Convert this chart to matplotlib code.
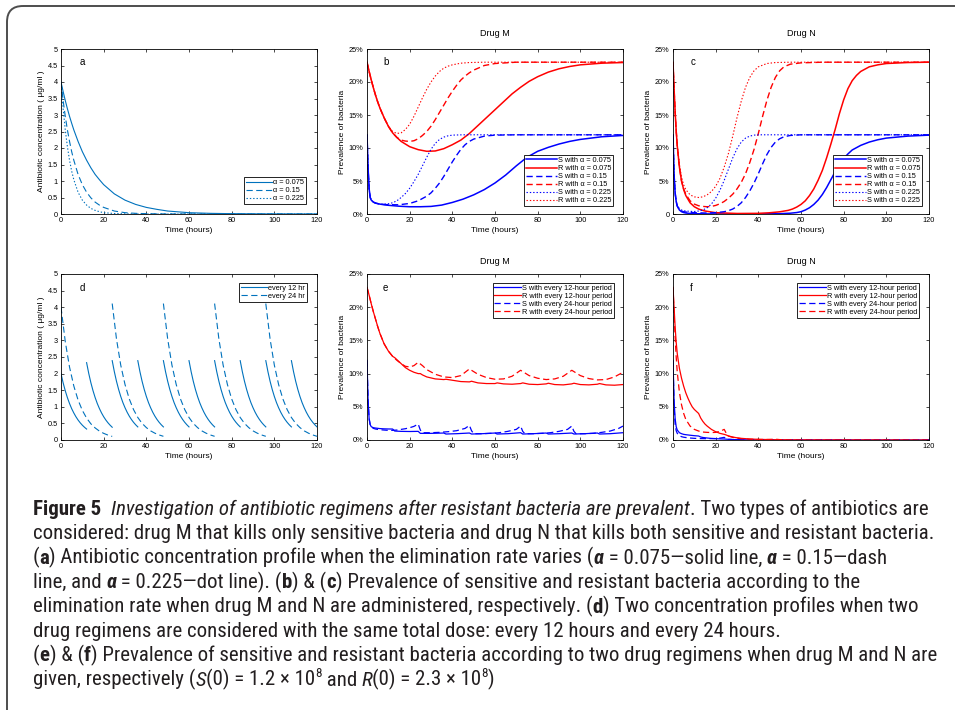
import matplotlib
matplotlib.use("Agg")
import matplotlib.pyplot as plt
from matplotlib import font_manager as fm
from matplotlib.patches import FancyBboxPatch

# ---------------- data ----------------
# (a) concentration, three elimination rates
t_a = [0, 1, 2, 3, 4, 5, 6, 8, 10, 12, 14, 16, 18, 20, 25, 30, 35, 40, 45, 50, 60, 70, 80, 90, 100, 110, 120]
conc_a1 = [4.00, 3.71, 3.44, 3.19, 2.96, 2.75, 2.55, 2.20, 1.89, 1.63, 1.40, 1.20, 1.04, 0.89, 0.61, 0.42, 0.29,
           0.20, 0.14, 0.09, 0.04, 0.02, 0.01, 0.005, 0.002, 0.001, 0.0]
conc_a2 = [4.00, 3.44, 2.96, 2.55, 2.20, 1.89, 1.63, 1.20, 0.89, 0.66, 0.49, 0.36, 0.27, 0.20, 0.09, 0.04, 0.02,
           0.01, 0.005, 0.002, 0, 0, 0, 0, 0, 0, 0]
conc_a3 = [4.00, 3.19, 2.55, 2.04, 1.63, 1.30, 1.04, 0.66, 0.42, 0.27, 0.17, 0.11, 0.07, 0.04, 0.015, 0.005, 0,
           0, 0, 0, 0, 0, 0, 0, 0, 0, 0]
labels_a = ["α = 0.075", "α = 0.15", "α = 0.225"]

# (b) drug M, prevalence (%)
t_b_s1 = [0, 0.5, 1, 1.5, 2, 3, 4, 6, 8, 10, 15, 20, 25, 30, 35, 40, 45, 50, 55, 60, 65, 70, 75, 80, 85, 90, 95, 100, 110, 120]
b_s1 = [12, 7, 3.8, 2.5, 2.1, 1.8, 1.65, 1.5, 1.4, 1.32, 1.18, 1.1, 1.1, 1.15, 1.35, 1.75, 2.25, 2.9, 3.7, 4.7,
        5.9, 7.3, 8.6, 9.5, 10.1, 10.6, 11.0, 11.3, 11.7, 11.9]
t_b_r1 = [0, 1, 2, 3, 4, 5, 6, 8, 10, 12, 14, 16, 18, 20, 24, 28, 32, 36, 40, 44, 48, 52, 56, 60, 64, 68, 72, 76,
          80, 85, 90, 95, 100, 110, 120]
b_r1 = [23, 21.6, 20.3, 19.1, 18.0, 17.0, 16.1, 14.6, 13.3, 12.3, 11.6, 11.0, 10.6, 10.2, 9.75, 9.5, 9.55, 9.9,
        10.5, 11.2, 12.2, 13.4, 14.6, 15.8, 17.0, 18.2, 19.2, 20.1, 20.8, 21.5, 22.0, 22.35, 22.6, 22.85, 22.95]
t_b_s2 = [0, 0.5, 1, 1.5, 2, 3, 4, 6, 8, 10, 15, 20, 24, 28, 30, 32, 34, 36, 38, 40, 42, 44, 46, 48, 50, 55, 60, 70, 80, 120]
b_s2 = [12, 7, 3.8, 2.5, 2.1, 1.8, 1.65, 1.5, 1.45, 1.4, 1.4, 1.6, 2.0, 2.7, 3.2, 3.9, 4.7, 5.7, 6.8, 7.9, 8.9,
        9.8, 10.5, 11.0, 11.35, 11.8, 11.95, 12.0, 12.0, 12.0]
t_b_r2 = [0, 1, 2, 3, 4, 5, 6, 8, 10, 12, 14, 16, 18, 20, 22, 24, 26, 28, 30, 32, 34, 36, 38, 40, 42, 44, 46, 48,
          50, 55, 60, 70, 120]
b_r2 = [23, 21.6, 20.3, 19.1, 18.0, 17.0, 16.1, 14.6, 13.3, 12.3, 11.6, 11.2, 11.05, 11.0, 11.1, 11.4, 11.9, 12.5,
        13.3, 14.3, 15.4, 16.5, 17.6, 18.6, 19.5, 20.3, 20.9, 21.4, 21.8, 22.5, 22.8, 23.0, 23.0]
t_b_s3 = [0, 0.5, 1, 1.5, 2, 3, 4, 6, 8, 10, 12, 14, 16, 18, 20, 22, 24, 26, 28, 30, 32, 34, 36, 38, 40, 45, 50, 120]
b_s3 = [12, 7, 3.8, 2.5, 2.1, 1.8, 1.65, 1.5, 1.5, 1.55, 1.7, 2.0, 2.5, 3.1, 3.9, 4.9, 6.0, 7.3, 8.6, 9.8, 10.7,
        11.3, 11.65, 11.85, 11.95, 12.0, 12.0, 12.0]
t_b_r3 = [0, 1, 2, 3, 4, 5, 6, 8, 10, 12, 14, 16, 18, 20, 22, 24, 26, 28, 30, 32, 34, 36, 38, 40, 44, 48, 55, 120]
b_r3 = [23, 21.6, 20.3, 19.1, 18.0, 17.0, 16.1, 14.6, 13.3, 12.5, 12.2, 12.3, 12.8, 13.6, 14.8, 16.2, 17.6, 18.9,
        20.0, 20.9, 21.6, 22.1, 22.4, 22.6, 22.85, 22.95, 23.0, 23.0]
labels_b = ["S with α = 0.075", "R with α = 0.075", "S with α = 0.15", "R with α = 0.15",
            "S with α = 0.225", "R with α = 0.225"]

# (c) drug N, prevalence (%)
t_c_s1 = [0, 0.5, 1, 1.5, 2, 3, 4, 5, 6, 8, 10, 15, 20, 30, 40, 50, 55, 58, 60, 62, 64, 66, 68, 70, 72, 74, 76,
          78, 80, 82, 84, 88, 92, 96, 100, 110, 120]
c_s1 = [12, 6, 3.2, 1.9, 1.2, 0.6, 0.35, 0.22, 0.15, 0.08, 0.05, 0.02, 0.01, 0.01, 0.02, 0.05, 0.12, 0.22, 0.35,
        0.6, 0.95, 1.45, 2.1, 2.95, 4.0, 5.2, 6.4, 7.5, 8.4, 9.1, 9.7, 10.4, 10.9, 11.25, 11.5, 11.8, 11.95]
t_c_r1 = [0, 0.5, 1, 1.5, 2, 3, 4, 5, 6, 8, 10, 12, 15, 20, 30, 40, 45, 50, 54, 56, 58, 60, 62, 64, 66, 68, 70,
          72, 74, 76, 78, 80, 82, 84, 86, 88, 92, 96, 100, 110, 120]
c_r1 = [23, 19, 15.5, 12.6, 10.3, 7.1, 5.0, 3.7, 2.8, 1.7, 1.1, 0.75, 0.45, 0.2, 0.08, 0.1, 0.18, 0.33, 0.55,
        0.75, 1.05, 1.45, 2.0, 2.8, 3.8, 5.1, 6.6, 8.5, 10.6, 12.8, 15.2, 17.3, 19.0, 20.2, 21.0, 21.6, 22.3,
        22.6, 22.8, 22.95, 23.0]
t_c_s2 = [0, 0.5, 1, 1.5, 2, 3, 4, 5, 6, 8, 10, 15, 20, 24, 26, 28, 30, 32, 34, 36, 38, 40, 42, 44, 46, 48, 50,
          52, 55, 60, 120]
c_s2 = [12, 6, 3.2, 1.9, 1.2, 0.65, 0.45, 0.35, 0.3, 0.25, 0.2, 0.15, 0.2, 0.35, 0.5, 0.75, 1.15, 1.7, 2.5, 3.5,
        4.7, 6.1, 7.6, 9.0, 10.1, 10.9, 11.4, 11.7, 11.9, 12.0, 12.0]
t_c_r2 = [0, 0.5, 1, 1.5, 2, 3, 4, 5, 6, 8, 10, 12, 14, 16, 18, 20, 22, 24, 26, 28, 30, 32, 34, 36, 38, 40, 42,
          44, 46, 48, 50, 52, 55, 60, 70, 120]
c_r2 = [23, 19, 15.5, 12.6, 10.3, 7.1, 5.0, 3.8, 3.0, 2.0, 1.5, 1.25, 1.15, 1.1, 1.15, 1.3, 1.55, 1.9, 2.4, 3.0,
        3.8, 4.8, 6.1, 7.8, 9.8, 12.2, 14.8, 17.2, 19.2, 20.7, 21.7, 22.3, 22.7, 22.9, 23.0, 23.0]
t_c_s3 = [0, 0.5, 1, 1.5, 2, 3, 4, 5, 6, 8, 10, 12, 14, 16, 18, 20, 22, 24, 26, 28, 30, 32, 34, 36, 38, 40, 120]
c_s3 = [12, 6, 3.2, 1.9, 1.3, 0.8, 0.6, 0.5, 0.45, 0.4, 0.38, 0.45, 0.6, 0.95, 1.5, 2.4, 3.6, 5.1, 6.8, 8.5,
        9.9, 10.9, 11.5, 11.8, 11.95, 12.0, 12.0]
t_c_r3 = [0, 0.5, 1, 1.5, 2, 3, 4, 5, 6, 8, 10, 12, 14, 16, 18, 20, 22, 24, 26, 28, 30, 32, 34, 36, 38, 40, 44,
          48, 55, 120]
c_r3 = [23, 19, 15.5, 12.6, 10.5, 7.5, 5.6, 4.4, 3.7, 2.9, 2.6, 2.5, 2.6, 2.9, 3.4, 4.2, 5.4, 7.1, 9.2, 11.8,
        14.6, 17.1, 19.2, 20.7, 21.7, 22.3, 22.8, 22.95, 23.0, 23.0]
labels_c = ["S with α = 0.075", "R with α = 0.075", "S with α = 0.15", "R with α = 0.15",
            "S with α = 0.225", "S with α = 0.225"]

# (d) two dosing regimens; each dose decays with the same read profile
dose12_start = [0, 12, 24, 36, 48, 60, 72, 84, 96, 108]
dose12_peak = [2.0, 2.33, 2.39, 2.39, 2.39, 2.39, 2.39, 2.39, 2.39, 2.39]
decay12_dt = [0, 1, 2, 3, 4, 5, 6, 7, 8, 9, 10, 11, 12]
decay12_frac = [1, 0.861, 0.741, 0.638, 0.549, 0.472, 0.407, 0.350, 0.301, 0.259, 0.223, 0.192, 0.165]
dose24_start = [0, 24, 48, 72, 96]
dose24_peak = [4.0, 4.11, 4.11, 4.11, 4.11]
decay24_dt = [0, 2, 4, 6, 8, 10, 12, 14, 16, 18, 20, 22, 24]
decay24_frac = [1, 0.741, 0.549, 0.407, 0.301, 0.223, 0.165, 0.122, 0.091, 0.067, 0.050, 0.037, 0.027]
labels_d = ["every 12 hr", "every 24 hr"]

# (e) drug M, two regimens (%)
t_e_s12 = [0, 0.5, 1, 1.5, 2, 3, 4, 6, 8, 10, 12, 13, 16, 20, 24, 25, 30, 36, 37, 42, 48, 49, 54, 60, 61, 66,
           72, 73, 78, 84, 85, 90, 96, 97, 102, 108, 109, 114, 120]
e_s12 = [12, 6, 3.2, 2.3, 2.0, 1.85, 1.8, 1.72, 1.68, 1.66, 1.65, 1.35, 1.3, 1.28, 1.3, 1.0, 1.0, 1.05, 0.9,
         0.95, 1.05, 0.9, 0.95, 1.05, 0.9, 0.95, 1.1, 0.9, 0.95, 1.05, 0.9, 0.95, 1.05, 0.9, 0.95, 1.05, 0.9,
         0.95, 1.1]
t_e_r12 = [0, 1, 2, 3, 4, 5, 6, 8, 10, 12, 13, 14, 16, 18, 20, 22, 24, 25, 26, 28, 32, 36, 37, 40, 44, 48, 49,
           52, 56, 60, 61, 64, 68, 72, 73, 76, 80, 84, 85, 88, 92, 96, 97, 100, 104, 108, 109, 112, 116, 120]
e_r12 = [23, 21.8, 20.5, 19.3, 18.2, 17.1, 16.1, 14.5, 13.4, 12.6, 12.4, 12.1, 11.5, 10.9, 10.5, 10.2, 10.0,
         10.0, 9.8, 9.5, 9.2, 9.1, 9.15, 9.0, 8.8, 8.75, 8.85, 8.6, 8.5, 8.5, 8.6, 8.45, 8.4, 8.5, 8.6, 8.4,
         8.35, 8.45, 8.55, 8.35, 8.3, 8.45, 8.55, 8.35, 8.3, 8.4, 8.5, 8.3, 8.25, 8.35]
t_e_s24 = [0, 0.5, 1, 1.5, 2, 3, 4, 6, 8, 10, 12, 14, 16, 18, 20, 22, 24, 25, 26, 30, 34, 38, 42, 46, 48, 49,
           50, 54, 58, 62, 66, 70, 72, 73, 74, 78, 82, 86, 90, 94, 96, 97, 98, 102, 106, 110, 114, 118, 120]
e_s24 = [12, 6, 3.2, 2.3, 2.0, 1.75, 1.65, 1.55, 1.5, 1.45, 1.45, 1.5, 1.6, 1.7, 1.85, 2.05, 2.4, 1.5, 1.1,
         1.1, 1.15, 1.25, 1.4, 1.75, 2.2, 1.4, 0.95, 0.95, 1.0, 1.1, 1.3, 1.6, 2.1, 1.3, 0.95, 0.95, 1.0, 1.1,
         1.3, 1.6, 2.1, 1.3, 0.95, 0.95, 1.0, 1.15, 1.35, 1.75, 2.1]
t_e_r24 = [0, 1, 2, 3, 4, 5, 6, 8, 10, 12, 14, 16, 18, 20, 22, 24, 26, 28, 32, 36, 40, 44, 48, 50, 52, 56, 60,
           64, 68, 72, 74, 76, 80, 84, 88, 92, 96, 98, 100, 104, 108, 112, 116, 120]
e_r24 = [23, 21.8, 20.5, 19.3, 18.2, 17.1, 16.1, 14.5, 13.4, 12.6, 12.0, 11.5, 11.1, 11.0, 11.2, 11.7, 11.2,
         10.6, 9.9, 9.5, 9.4, 9.7, 10.7, 10.3, 9.9, 9.4, 9.15, 9.2, 9.6, 10.5, 10.1, 9.7, 9.3, 9.1, 9.2, 9.6,
         10.5, 10.1, 9.7, 9.25, 9.05, 9.1, 9.5, 10.2]
labels_ef = ["S with every 12-hour period", "R with every 12-hour period",
             "S with every 24-hour period", "R with every 24-hour period"]

# (f) drug N, two regimens (%)
t_f_s12 = [0, 0.5, 1, 1.5, 2, 3, 4, 5, 6, 8, 10, 12, 13, 14, 16, 18, 20, 22, 24, 26, 28, 32, 36, 40, 50, 60, 120]
f_s12 = [12, 6, 3.2, 2.0, 1.5, 1.1, 0.95, 0.85, 0.8, 0.72, 0.65, 0.6, 0.45, 0.38, 0.3, 0.24, 0.2, 0.17, 0.15,
         0.1, 0.07, 0.04, 0.02, 0.01, 0, 0, 0]
t_f_r12 = [0, 0.5, 1, 1.5, 2, 3, 4, 5, 6, 7, 8, 9, 10, 11, 12, 13, 14, 15, 16, 18, 20, 22, 24, 25, 26, 28, 30,
           32, 36, 40, 45, 50, 60, 120]
f_r12 = [23, 20, 17, 14.7, 13, 10.8, 9.3, 8.1, 7.1, 6.3, 5.6, 5.0, 4.6, 4.3, 4.0, 3.3, 2.8, 2.4, 2.1, 1.6,
         1.25, 1.0, 0.85, 0.75, 0.6, 0.45, 0.33, 0.25, 0.15, 0.1, 0.06, 0.04, 0.02, 0.0]
t_f_s24 = [0, 0.5, 1, 1.5, 2, 3, 4, 5, 6, 8, 10, 12, 16, 20, 22, 24, 25, 26, 28, 32, 40, 50, 120]
f_s24 = [12, 5, 2.4, 1.4, 1.0, 0.65, 0.5, 0.42, 0.37, 0.3, 0.25, 0.22, 0.2, 0.22, 0.28, 0.4, 0.2, 0.1, 0.06,
         0.03, 0.01, 0, 0]
t_f_r24 = [0, 0.5, 1, 1.5, 2, 3, 4, 5, 6, 8, 10, 12, 14, 16, 18, 20, 22, 24, 25, 26, 28, 30, 32, 36, 40, 44, 48,
           50, 52, 60, 120]
f_r24 = [23, 19, 15.5, 12.5, 10.2, 7.2, 5.3, 4.0, 3.1, 2.1, 1.6, 1.35, 1.2, 1.15, 1.12, 1.15, 1.3, 1.6, 1.0,
         0.6, 0.4, 0.28, 0.2, 0.12, 0.08, 0.08, 0.12, 0.06, 0.03, 0.01, 0.0]

# ---------------- styling ----------------
plt.rcParams['font.family'] = ['Liberation Sans', 'DejaVu Sans']
plt.rcParams['lines.scale_dashes'] = False
BLUE_A = "#0072BD"
BLUE = "#0000FF"
RED = "#FF0000"
DASH = (0, (4.5, 2.5))
DOT = (0, (1.0, 1.4))

W, H = 955, 710
fig = plt.figure(figsize=(W / 100, H / 100), dpi=100)


def px_axes(l, t, r, b):
    return fig.add_axes([l / W, 1 - b / H, (r - l) / W, (b - t) / H])


def style(ax, conc=True, zero="0%"):
    ax.set_xlim(0, 120)
    ax.set_xticks(range(0, 121, 20))
    if conc:
        ax.set_ylim(0, 5)
        yt = [i * 0.5 for i in range(11)]
        ax.set_yticks(yt)
        ax.set_yticklabels([f"{v:g}" for v in yt])
        ax.set_ylabel("Antibiotic concentration ( μg/ml )", fontsize=6, labelpad=1.5)
    else:
        ax.set_ylim(0, 25)
        ax.set_yticks(range(0, 26, 5))
        ax.set_yticklabels([zero] + [f"{v}%" for v in range(5, 26, 5)])
        ax.set_ylabel("Prevalence of bacteria", fontsize=6, labelpad=2)
    ax.set_xlabel("Time (hours)", fontsize=6, labelpad=2)
    ax.tick_params(direction='in', top=True, right=True, length=2.5, width=0.5,
                   labelsize=5.3, pad=2.5)
    for s in ax.spines.values():
        s.set_linewidth(0.6)


def legend(ax, loc, anchor, hl=4.2):
    lg = ax.legend(loc=loc, bbox_to_anchor=anchor, fontsize=5.3, handlelength=hl,
                   handletextpad=0.15, labelspacing=0.12, borderpad=0.25, borderaxespad=0,
                   fancybox=False, framealpha=1, edgecolor='black')
    lg.get_frame().set_linewidth(0.6)


def letter(ax, s, x, y):
    ax.text(x, y, s, transform=ax.transAxes, fontsize=7, ha='left', va='center')


# (a)
ax = px_axes(61, 49, 317, 214)
ax.plot(t_a, conc_a1, color=BLUE_A, lw=0.8, label=labels_a[0])
ax.plot(t_a, conc_a2, color=BLUE_A, lw=0.8, ls=DASH, label=labels_a[1])
ax.plot(t_a, conc_a3, color=BLUE_A, lw=0.8, ls=DOT, label=labels_a[2])
style(ax)
legend(ax, 'lower right', (0.957, 0.06), hl=3.6)
letter(ax, "a", 0.074, 0.92)

# (b)
ax = px_axes(367, 49, 623, 214)
ax.plot(t_b_s1, b_s1, color=BLUE, lw=1.1, label=labels_b[0])
ax.plot(t_b_r1, b_r1, color=RED, lw=1.1, label=labels_b[1])
ax.plot(t_b_s2, b_s2, color=BLUE, lw=1.0, ls=DASH, label=labels_b[2])
ax.plot(t_b_r2, b_r2, color=RED, lw=1.0, ls=DASH, label=labels_b[3])
ax.plot(t_b_s3, b_s3, color=BLUE, lw=0.8, ls=DOT, label=labels_b[4])
ax.plot(t_b_r3, b_r3, color=RED, lw=0.8, ls=DOT, label=labels_b[5])
style(ax, conc=False)
ax.set_title("Drug M", fontsize=6.5, pad=9)
legend(ax, 'lower right', (0.961, 0.048))
letter(ax, "b", 0.066, 0.92)

# (c)
ax = px_axes(673, 49, 929, 214)
ax.plot(t_c_s1, c_s1, color=BLUE, lw=1.1, label=labels_c[0])
ax.plot(t_c_r1, c_r1, color=RED, lw=1.1, label=labels_c[1])
ax.plot(t_c_s2, c_s2, color=BLUE, lw=1.0, ls=DASH, label=labels_c[2])
ax.plot(t_c_r2, c_r2, color=RED, lw=1.0, ls=DASH, label=labels_c[3])
ax.plot(t_c_s3, c_s3, color=BLUE, lw=0.8, ls=DOT, label=labels_c[4])
ax.plot(t_c_r3, c_r3, color=RED, lw=0.8, ls=DOT, label=labels_c[5])
style(ax, conc=False, zero="0")
ax.set_title("Drug N", fontsize=6.5, pad=9)
legend(ax, 'lower right', (0.973, 0.048))
letter(ax, "c", 0.07, 0.92)

# (d)
ax = px_axes(61, 274, 317, 440)
for i, (s0, pk) in enumerate(zip(dose12_start, dose12_peak)):
    ax.plot([s0 + d for d in decay12_dt], [pk * f for f in decay12_frac], color=BLUE_A, lw=0.8,
            label=labels_d[0] if i == 0 else None)
for i, (s0, pk) in enumerate(zip(dose24_start, dose24_peak)):
    ax.plot([s0 + d for d in decay24_dt], [pk * f for f in decay24_frac], color=BLUE_A, lw=0.8, ls=DASH,
            label=labels_d[1] if i == 0 else None)
style(ax)
legend(ax, 'upper right', (0.961, 0.946), hl=3.6)
letter(ax, "d", 0.072, 0.916)

# (e)
ax = px_axes(367, 274, 623, 440)
ax.plot(t_e_s12, e_s12, color=BLUE, lw=0.9, label=labels_ef[0])
ax.plot(t_e_r12, e_r12, color=RED, lw=0.9, label=labels_ef[1])
ax.plot(t_e_s24, e_s24, color=BLUE, lw=0.9, ls=DASH, label=labels_ef[2])
ax.plot(t_e_r24, e_r24, color=RED, lw=0.9, ls=DASH, label=labels_ef[3])
style(ax, conc=False)
ax.set_title("Drug M", fontsize=6.5, pad=7)
legend(ax, 'upper right', (0.965, 0.946), hl=3.6)
letter(ax, "e", 0.0625, 0.916)

# (f)
ax = px_axes(673, 274, 929, 440)
ax.plot(t_f_s12, f_s12, color=BLUE, lw=0.9, label=labels_ef[0])
ax.plot(t_f_r12, f_r12, color=RED, lw=0.9, label=labels_ef[1])
ax.plot(t_f_s24, f_s24, color=BLUE, lw=0.9, ls=DASH, label=labels_ef[2])
ax.plot(t_f_r24, f_r24, color=RED, lw=0.9, ls=DASH, label=labels_ef[3])
style(ax, conc=False)
ax.set_title("Drug N", fontsize=6.5, pad=7)
legend(ax, 'upper right', (0.961, 0.946), hl=3.6)
letter(ax, "f", 0.066, 0.916)

# ---------------- frame + caption (pixel coordinates) ----------------
bg = fig.add_axes([0, 0, 1, 1], zorder=-1)
bg.set_xlim(0, W)
bg.set_ylim(H, 0)
bg.axis('off')
bg.add_patch(FancyBboxPatch((7, 6), 1100, 900, boxstyle="round,pad=0,rounding_size=16",
                            ec='#4d4d4d', fc='none', lw=1.4))


def has_font(name):
    try:
        fm.findfont(fm.FontProperties(family=name), fallback_to_default=False)
        return True
    except Exception:
        return False


cap_family = next((f for f in ["Liberation Sans Narrow", "Roboto Condensed", "Open Sans Condensed",
                               "DejaVu Sans Condensed", "Liberation Sans"]
                   if has_font(f)), "DejaVu Sans")

cap_lines = [
    [("Figure 5", "b"), ("  ", "r"),
     ("Investigation of antibiotic regimens after resistant bacteria are prevalent", "i"),
     (". Two types of antibiotics are", "r")],
    [("considered: drug M that kills only sensitive bacteria and drug N that kills both sensitive and resistant bacteria.", "r")],
    [("(", "r"), ("a", "b"), (") Antibiotic concentration profile when the elimination rate varies (", "r"),
     ("α", "bi"), (" = 0.075—solid line, ", "r"), ("α", "bi"), (" = 0.15—dash", "r")],
    [("line, and ", "r"), ("α", "bi"), (" = 0.225—dot line). (", "r"), ("b", "b"), (") & (", "r"), ("c", "b"),
     (") Prevalence of sensitive and resistant bacteria according to the", "r")],
    [("elimination rate when drug M and N are administered, respectively. (", "r"), ("d", "b"),
     (") Two concentration profiles when two", "r")],
    [("drug regimens are considered with the same total dose: every 12 hours and every 24 hours.", "r")],
    [("(", "r"), ("e", "b"), (") & (", "r"), ("f", "b"),
     (") Prevalence of sensitive and resistant bacteria according to two drug regimens when drug M and N are", "r")],
    [("given, respectively (", "r"), ("S", "i"), ("(0) = 1.2 × 10", "r"), ("8", "sup"), (" and ", "r"),
     ("R", "i"), ("(0) = 2.3 × 10", "r"), ("8", "sup"), (")", "r")],
]

renderer = fig.canvas.get_renderer()


def fprops(kind, size):
    weight = 'bold' if kind in ('b', 'bi') else 'normal'
    style_ = 'italic' if kind in ('i', 'bi') else 'normal'
    if kind == 'sup':
        size = size * 0.62
    return fm.FontProperties(family=[cap_family, 'DejaVu Sans'], size=size, weight=weight, style=style_)


def seg_width(s, fp):
    t = bg.text(0, 0, "|" + s + "|", fontproperties=fp)
    w1 = t.get_window_extent(renderer).width
    t.set_text("||")
    w2 = t.get_window_extent(renderer).width
    t.remove()
    return w1 - w2


# pick the caption size so the widest line ends where it ends in the figure
base = 13.0
w_line = max(sum(seg_width(s, fprops(k, base)) for s, k in ln) for ln in cap_lines)
cap_size = base * 903.0 / w_line

x0 = 33
for i, line in enumerate(cap_lines):
    y = 515 + i * 24.4
    x = x0
    for s, k in line:
        fp = fprops(k, cap_size)
        yy = y - 0.42 * cap_size * 100 / 72 if k == 'sup' else y
        bg.text(x, yy, s, fontproperties=fp, color='#231f20', va='baseline', ha='left')
        x += seg_width(s, fp)

fig.savefig("out.png", dpi=100)
